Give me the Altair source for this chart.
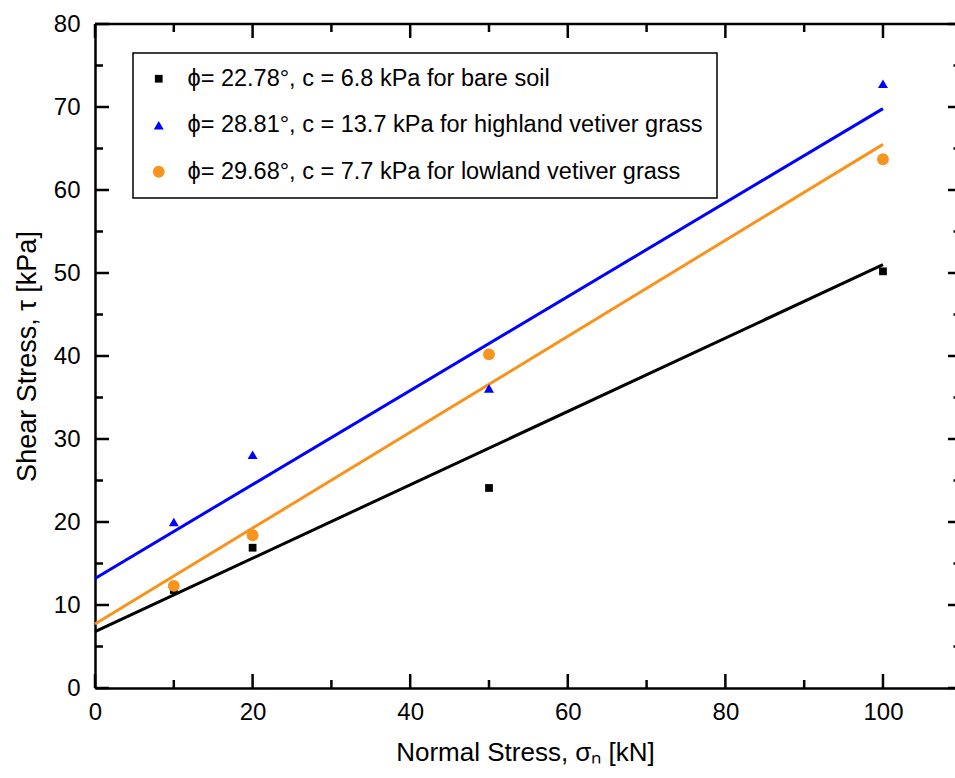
import altair as alt
import pandas as pd

# ---- data ----
series_names = [
    "ϕ= 22.78°, c = 6.8 kPa for bare soil",
    "ϕ= 28.81°, c = 13.7 kPa for highland vetiver grass",
    "ϕ= 29.68°, c = 7.7 kPa for lowland vetiver grass",
]
normal_stress = [10, 20, 50, 100]
shear_bare = [11.8, 16.9, 24.1, 50.2]
shear_highland = [20.0, 28.1, 36.1, 72.8]
shear_lowland = [12.3, 18.4, 40.2, 63.7]

fit_x = [0, 100]
fit_bare = [6.8, 51.0]
fit_highland = [13.2, 69.8]
fit_lowland = [7.7, 65.5]

x_major = [0, 20, 40, 60, 80, 100]
x_minor = [10, 30, 50, 70, 90]
y_major = [0, 10, 20, 30, 40, 50, 60, 70, 80]
y_minor = [5, 15, 25, 35, 45, 55, 65, 75]

# ---- styles ----
colors = ["#000000", "#0000ff", "#f7941d"]
shapes = ["square", "triangle-up", "circle"]
sizes = [60, 140, 70]
FONT = "Liberation Sans"
W, H = 860, 664
XDOM = [0, 109.14]
YDOM = [0, 80]

xs = alt.Scale(domain=XDOM, nice=False, zero=False)
ys = alt.Scale(domain=YDOM, nice=False, zero=False)

pts = []
for name, ys_vals in zip(series_names, [shear_bare, shear_highland, shear_lowland]):
    for xv, yv in zip(normal_stress, ys_vals):
        pts.append({"series": name, "x": xv, "y": yv})
pts_df = pd.DataFrame(pts)

x_axis = alt.Axis(values=x_major, ticks=False, grid=False, domain=True,
                  domainColor="black", domainWidth=2.5, labelFont=FONT,
                  labelFontSize=24, labelColor="black", labelPadding=12,
                  labelFlush=False,
                  title="Normal Stress, σₙ [kN]", titleFont=FONT,
                  titleFontSize=26, titleFontWeight="normal",
                  titleColor="black", titlePadding=15)
y_axis = alt.Axis(values=y_major, ticks=False, grid=False, domain=True,
                  domainColor="black", domainWidth=2.5, labelFont=FONT,
                  labelFontSize=24, labelColor="black", labelPadding=15,
                  labelFlush=False,
                  title="Shear Stress, τ [kPa]", titleFont=FONT,
                  titleFontSize=27, titleFontWeight="normal",
                  titleColor="black", titlePadding=12)

layers = []

# fit lines
for name, col, fy in zip(series_names, colors, [fit_bare, fit_highland, fit_lowland]):
    df = pd.DataFrame({"x": fit_x, "y": fy})
    layers.append(
        alt.Chart(df).mark_line(color=col, strokeWidth=3).encode(
            x=alt.X("x:Q", scale=xs, axis=x_axis),
            y=alt.Y("y:Q", scale=ys, axis=y_axis),
        )
    )

# points
layers.append(
    alt.Chart(pts_df).mark_point(filled=True, opacity=1).encode(
        x=alt.X("x:Q", scale=xs, axis=x_axis),
        y=alt.Y("y:Q", scale=ys, axis=y_axis),
        color=alt.Color("series:N", scale=alt.Scale(domain=series_names, range=colors),
                        sort=series_names,
                        legend=alt.Legend(title=None, orient="none", legendX=38, legendY=29)),
        shape=alt.Shape("series:N", scale=alt.Scale(domain=series_names, range=shapes),
                        sort=series_names,
                        legend=alt.Legend(title=None, orient="none", legendX=38, legendY=29)),
        size=alt.Size("series:N", scale=alt.Scale(domain=series_names, range=sizes), legend=None),
    )
)

# ticks (inward, Origin style)
def yticks(vals, x0, x1):
    return alt.Chart(pd.DataFrame({"v": vals})).mark_rule(color="black", strokeWidth=2.5).encode(
        y=alt.Y("v:Q", scale=ys, axis=y_axis), x=alt.value(x0), x2=alt.value(x1))

def xticks(vals, y0, y1):
    return alt.Chart(pd.DataFrame({"v": vals})).mark_rule(color="black", strokeWidth=2.5).encode(
        x=alt.X("v:Q", scale=xs, axis=x_axis), y=alt.value(y0), y2=alt.value(y1))

layers += [
    yticks(y_major, 0, 14), yticks(y_minor, 0, 8),
    yticks(y_major, W - 7, W), yticks(y_minor, W - 1.5, W),
    xticks(x_major, H, H - 14), xticks(x_minor, H, H - 8),
    xticks(x_major, 0, 14), xticks(x_minor, 0, 8),
]

# top frame line
layers.append(
    alt.Chart(pd.DataFrame({"a": [0]})).mark_rule(color="black", strokeWidth=2.5).encode(
        x=alt.value(0), x2=alt.value(W), y=alt.value(0))
)

chart = alt.layer(*layers).properties(
    width=W, height=H,
    autosize=alt.AutoSizeParams(type="none"),
    padding={"left": 95, "top": 24, "right": 0, "bottom": 90},
    background="white",
).configure_view(stroke=None).configure_legend(
    labelFont=FONT, labelFontSize=23.5, labelColor="black", labelLimit=900,
    labelOffset=17, symbolSize=64, symbolStrokeWidth=0, rowPadding=21.5,
    padding=14, strokeColor="black", strokeWidth=1.5, fillColor="white",
    cornerRadius=0,
)

chart.save("out.html", embed_options={"renderer": "svg", "actions": False})
